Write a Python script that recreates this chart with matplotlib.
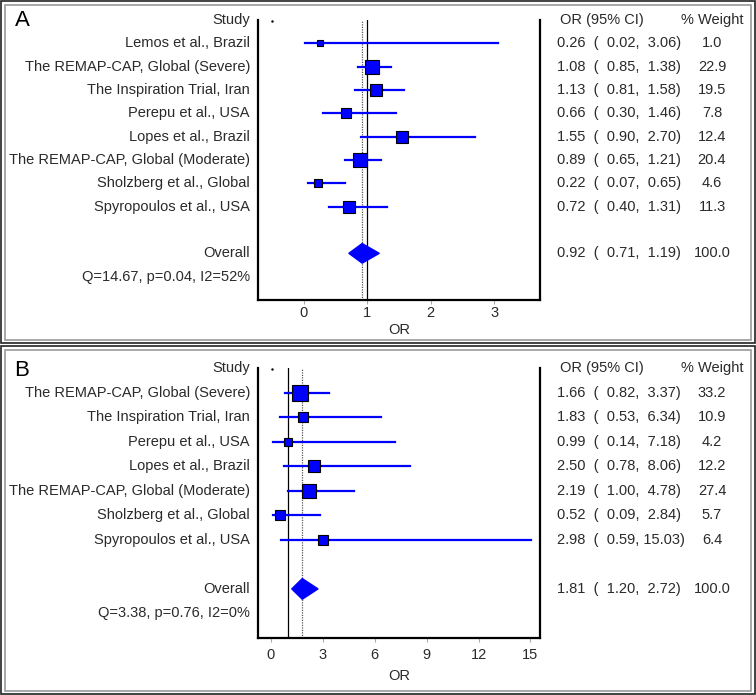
import matplotlib
matplotlib.use("Agg")
import matplotlib.pyplot as plt
from matplotlib.patches import Rectangle, Polygon

plt.rcParams['font.family'] = ['Liberation Sans Narrow', 'Liberation Sans', 'DejaVu Sans']

# panel A data
studies_a = ["Lemos et al., Brazil", "The REMAP-CAP, Global (Severe)", "The Inspiration Trial, Iran",
             "Perepu et al., USA", "Lopes et al., Brazil", "The REMAP-CAP, Global (Moderate)",
             "Sholzberg et al., Global", "Spyropoulos et al., USA"]
or_a = [0.26, 1.08, 1.13, 0.66, 1.55, 0.89, 0.22, 0.72]
lo_a = [0.02, 0.85, 0.81, 0.30, 0.90, 0.65, 0.07, 0.40]
hi_a = [3.06, 1.38, 1.58, 1.46, 2.70, 1.21, 0.65, 1.31]
wt_a = [1.0, 22.9, 19.5, 7.8, 12.4, 20.4, 4.6, 11.3]
overall_a = (0.92, 0.71, 1.19)
het_a = "Q=14.67, p=0.04, I2=52%"
ticks_a = [0, 1, 2, 3]

# panel B data
studies_b = ["The REMAP-CAP, Global (Severe)", "The Inspiration Trial, Iran", "Perepu et al., USA",
             "Lopes et al., Brazil", "The REMAP-CAP, Global (Moderate)",
             "Sholzberg et al., Global", "Spyropoulos et al., USA"]
or_b = [1.66, 1.83, 0.99, 2.50, 2.19, 0.52, 2.98]
lo_b = [0.82, 0.53, 0.14, 0.78, 1.00, 0.09, 0.59]
hi_b = [3.37, 6.34, 7.18, 8.06, 4.78, 2.84, 15.03]
wt_b = [33.2, 10.9, 4.2, 12.2, 27.4, 5.7, 6.4]
overall_b = (1.81, 1.20, 2.72)
het_b = "Q=3.38, p=0.76, I2=0%"
ticks_b = [0, 3, 6, 9, 12, 15]

W, H = 756, 695
TXT = '#2a2a2a'
FS = 10.5

fig = plt.figure(figsize=(W / 100, H / 100), dpi=100)


def px_rect(l, t, r, b):
    return [l / W, 1 - b / H, (r - l) / W, (b - t) / H]


def frame(t, b):
    fig.patches.append(Rectangle((1 / W, 1 - b / H), (W - 2) / W, (b - t) / H,
                                 transform=fig.transFigure, fill=False, ec='#222222', lw=1.2,
                                 zorder=0))
    fig.patches.append(Rectangle((5 / W, 1 - (b - 3) / H), (W - 10) / W, (b - t - 7) / H,
                                 transform=fig.transFigure, fill=False, ec='#9a9a9a', lw=1.2,
                                 zorder=0))


def forest(rect, studies, est, lo, hi, wt, overall, het, ticks, xlim, letter, letter_y,
           tpad, lpad):
    ax = fig.add_axes(rect)
    n = len(studies)
    y_ov = n + 1
    y_q = n + 2
    ax.set_xlim(*xlim)
    ax.set_ylim(y_q + 1, -1)
    ax.spines['top'].set_visible(False)
    for s in ['left', 'right', 'bottom']:
        ax.spines[s].set_linewidth(1.6)
        ax.spines[s].set_color('black')
    ax.set_yticks([])
    ax.set_xticks(ticks)
    ax.tick_params(axis='x', length=3, width=0.8, pad=tpad, colors='#aaaaaa',
                   labelcolor=TXT, labelsize=FS)
    ax.set_xlabel("OR", fontsize=FS, color=TXT, labelpad=lpad)

    ax.axvline(1, color='black', lw=0.9, zorder=1)
    ax.axvline(overall[0], color='#555555', lw=0.9, ls=(0, (1, 1)), zorder=1)

    for i in range(n):
        ax.plot([lo[i], hi[i]], [i, i], color='#0000ff', lw=1.6, zorder=2)
        side = 5 + 1.8 * wt[i] ** 0.5
        ax.plot(est[i], i, marker='s', ms=side * 0.72, mfc='#0000ff', mec='black',
                mew=0.8, zorder=3)
    e, l, h = overall
    ax.add_patch(Polygon([(l, y_ov), (e, y_ov - 0.42), (h, y_ov), (e, y_ov + 0.42)],
                         closed=True, fc='#0000ff', ec='#0000ff', zorder=3))
    ax.plot(xlim[0] + 0.05 * (xlim[1] - xlim[0]), -0.95, marker='.', ms=1.5, color='black')

    tr = ax.get_yaxis_transform()
    x_l = (250 - 258) / 282
    x_or = (557 - 258) / 282
    x_w = (712 - 258) / 282
    kw = dict(transform=tr, va='center', fontsize=FS, color=TXT, clip_on=False)
    ax.text(x_l, -1, "Study", ha='right', **kw)
    ax.text(x_or + 0.01, -1, "OR (95% CI)", ha='left', **kw)
    ax.text(x_w, -1, "% Weight", ha='center', **kw)
    for i in range(n):
        ax.text(x_l, i, studies[i], ha='right', **kw)
        ax.text(x_or, i, f"{est[i]:.2f}  ( {lo[i]:5.2f}, {hi[i]:5.2f})", ha='left', **kw)
        ax.text(x_w, i, f"{wt[i]:.1f}", ha='center', **kw)
    ax.text(x_l, y_ov, "Overall", ha='right', **kw)
    ax.text(x_or, y_ov, f"{e:.2f}  ( {l:5.2f}, {h:5.2f})", ha='left', **kw)
    ax.text(x_w, y_ov, "100.0", ha='center', **kw)
    ax.text(x_l, y_q, het, ha='right', **kw)

    fig.text(22 / W, 1 - letter_y / H, letter, fontsize=16, family='Liberation Sans',
             color='black', va='center', ha='center')
    return ax


frame(1, 343)
frame(346, 694)
forest(px_rect(258, 20, 540, 300), studies_a, or_a, lo_a, hi_a, wt_a, overall_a, het_a,
       ticks_a, (-0.72, 3.72), "A", 20, 1.5, 2)
forest(px_rect(258, 368, 540, 638), studies_b, or_b, lo_b, hi_b, wt_b, overall_b, het_b,
       ticks_b, (-0.75, 15.55), "B", 370, 4, 5)

fig.savefig("out.png", dpi=100)
